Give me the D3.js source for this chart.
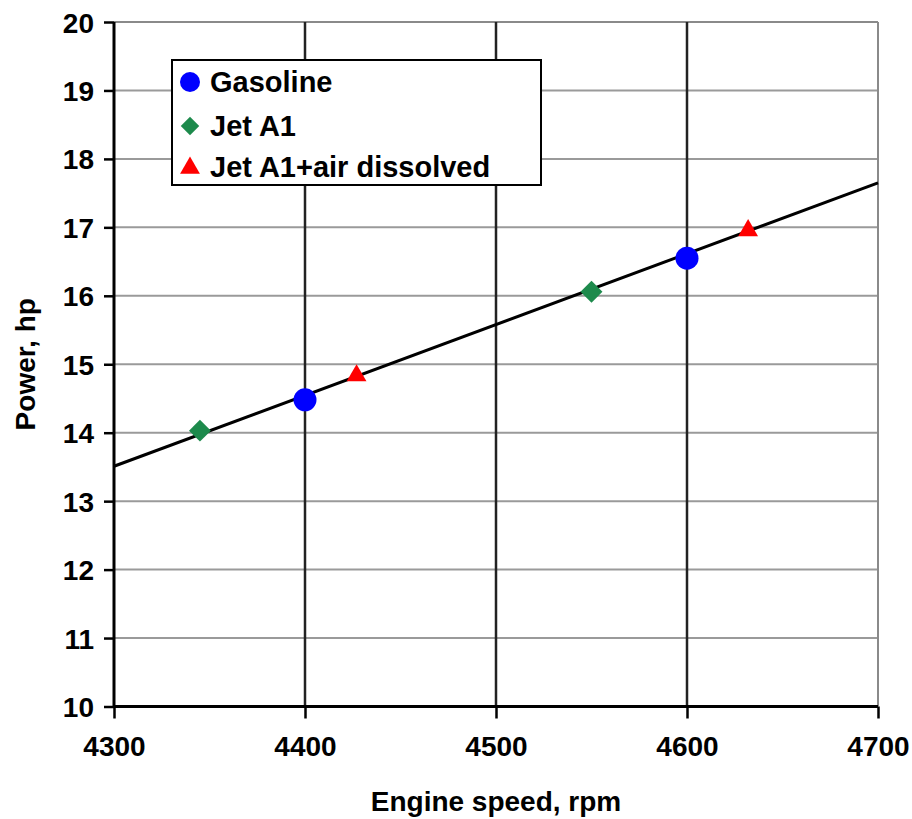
<!DOCTYPE html>
<html>
<head>
<meta charset="utf-8">
<script src="https://cdn.jsdelivr.net/npm/d3@7"></script>
<style>
  body { margin: 0; background: #fff; }
  text { font-family: "Liberation Sans", Arial, sans-serif; font-weight: bold; fill: #000; }
</style>
</head>
<body>
<div id="chart"></div>
<script>
// data
var gasoline = [
  { rpm: 4400, hp: 14.48 },
  { rpm: 4600, hp: 16.55 }
];
var jetA1 = [
  { rpm: 4345, hp: 14.03 },
  { rpm: 4550, hp: 16.06 }
];
var jetA1Air = [
  { rpm: 4427, hp: 14.82 },
  { rpm: 4632, hp: 16.94 }
];
var trend = [
  { rpm: 4300, hp: 13.51 },
  { rpm: 4700, hp: 17.65 }
];
var xTicks = [4300, 4400, 4500, 4600, 4700];
var yTicks = [10, 11, 12, 13, 14, 15, 16, 17, 18, 19, 20];
var legendLabels = ["Gasoline", "Jet A1", "Jet A1+air dissolved"];

var width = 912, height = 819;
var mLeft = 114, mRight = 878, mTop = 22, mBottom = 706.5;

var svg = d3.select("#chart").append("svg")
  .attr("width", width).attr("height", height);

var x = d3.scaleLinear().domain([4300, 4700]).range([mLeft, mRight]);
var y = d3.scaleLinear().domain([10, 20]).range([mBottom, mTop]);

// horizontal grid
svg.append("g").selectAll("line").data(yTicks.filter(function(d){ return d > 10; }))
  .enter().append("line")
  .attr("x1", mLeft).attr("x2", mRight)
  .attr("y1", function(d){ return y(d); }).attr("y2", function(d){ return y(d); })
  .attr("stroke", function(d){ return d === 20 ? "#8a8a8a" : "#9a9a9a"; })
  .attr("stroke-width", 2);

// vertical grid
svg.append("g").selectAll("line").data(xTicks.filter(function(d){ return d > 4300 && d < 4700; }))
  .enter().append("line")
  .attr("x1", function(d){ return x(d); }).attr("x2", function(d){ return x(d); })
  .attr("y1", mTop).attr("y2", mBottom)
  .attr("stroke", "#222").attr("stroke-width", 2.5);

// right border
svg.append("line").attr("x1", mRight).attr("x2", mRight).attr("y1", mTop).attr("y2", mBottom)
  .attr("stroke", "#8a8a8a").attr("stroke-width", 2);

// axes
var yAxis = d3.axisLeft(y).tickValues(yTicks).tickSize(10).tickPadding(10).tickFormat(d3.format("d"));
var xAxis = d3.axisBottom(x).tickValues(xTicks).tickSize(12).tickPadding(18).tickFormat(d3.format("d"));

var gy = svg.append("g").attr("transform", "translate(" + mLeft + ",0)").call(yAxis);
var gx = svg.append("g").attr("transform", "translate(0," + mBottom + ")").call(xAxis);

[gx, gy].forEach(function(g){
  g.select(".domain").attr("stroke", "#000").attr("stroke-width", 3);
  g.selectAll(".tick line").attr("stroke", "#000").attr("stroke-width", 2.5);
  g.selectAll(".tick text").style("font-size", "28px").style("font-family", "Liberation Sans, Arial, sans-serif")
    .style("font-weight", "bold").attr("fill", "#000");
});
gy.select(".domain").attr("d", "M0," + mTop + "V" + mBottom);
gx.select(".domain").attr("d", "M" + mLeft + ",0H" + mRight);
gy.selectAll(".tick text").attr("dy", "0.36em");

// trend line
var line = d3.line().x(function(d){ return x(d.rpm); }).y(function(d){ return y(d.hp); });
svg.append("path").datum(trend).attr("d", line)
  .attr("fill", "none").attr("stroke", "#000").attr("stroke-width", 3);

// markers
var diamond = d3.symbol().type(d3.symbolSquare).size(240);
var tri = d3.symbol().type(d3.symbolTriangle).size(170);

svg.append("g").selectAll("path").data(jetA1).enter().append("path")
  .attr("d", diamond)
  .attr("transform", function(d){ return "translate(" + x(d.rpm) + "," + y(d.hp) + ") rotate(45)"; })
  .attr("fill", "#1d8a4c");

svg.append("g").selectAll("path").data(jetA1Air).enter().append("path")
  .attr("d", tri)
  .attr("transform", function(d){ return "translate(" + x(d.rpm) + "," + (y(d.hp) - 1) + ")"; })
  .attr("fill", "#ff0000");

svg.append("g").selectAll("circle").data(gasoline).enter().append("circle")
  .attr("cx", function(d){ return x(d.rpm); })
  .attr("cy", function(d){ return y(d.hp); })
  .attr("r", 11.5).attr("fill", "#0000ff");

// legend
var lg = svg.append("g");
lg.append("rect").attr("x", 172).attr("y", 60).attr("width", 369).attr("height", 125)
  .attr("fill", "#fff").attr("stroke", "#000").attr("stroke-width", 2);

var rows = [82, 126, 167];
lg.append("circle").attr("cx", 190).attr("cy", rows[0]).attr("r", 10).attr("fill", "#0000ff");
lg.append("path").attr("d", d3.symbol().type(d3.symbolSquare).size(170))
  .attr("transform", "translate(190," + rows[1] + ") rotate(45)").attr("fill", "#1d8a4c");
lg.append("path").attr("d", d3.symbol().type(d3.symbolTriangle).size(170))
  .attr("transform", "translate(190," + (rows[2] + 1) + ")").attr("fill", "#ff0000");

lg.selectAll("text").data(legendLabels).enter().append("text")
  .attr("x", 210).attr("y", function(d, i){ return rows[i]; })
  .attr("dy", "0.36em")
  .style("font-size", "29px")
  .text(function(d){ return d; });

// axis titles
svg.append("text").attr("x", (mLeft + mRight) / 2).attr("y", 811)
  .attr("text-anchor", "middle").style("font-size", "28px")
  .text("Engine speed, rpm");

svg.append("text")
  .attr("transform", "translate(35," + ((mTop + mBottom) / 2) + ") rotate(-90)")
  .attr("text-anchor", "middle").style("font-size", "28px")
  .text("Power, hp");
</script>
</body>
</html>
